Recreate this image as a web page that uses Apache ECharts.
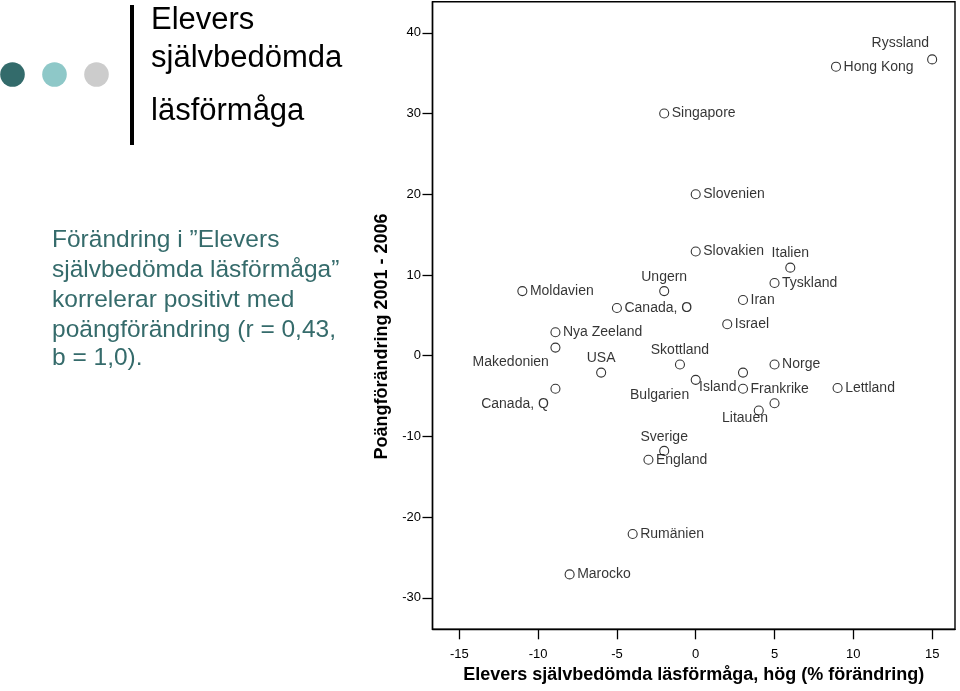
<!DOCTYPE html>
<html>
<head>
<meta charset="utf-8">
<script src="https://cdn.jsdelivr.net/npm/echarts@6/dist/echarts.min.js"></script>
<style>
html,body{margin:0;padding:0;background:#fff;}
#chart{width:960px;height:691px;}
</style>
</head>
<body>
<div id="chart"></div>
<script>
// ---- data ----
const countries = ['Ryssland','Hong Kong','Singapore','Slovenien','Slovakien','Italien','Tyskland','Ungern','Moldavien','Canada, O','Iran','Israel','Nya Zeeland','Makedonien','USA','Skottland','Norge','Island','Bulgarien','Frankrike','Lettland','Canada, Q','Litauen','','Sverige','England','Rumänien','Marocko'];
const selfRatedChange = [15, 8.9, -2, 0, 0, 6, 5, -2, -11, -5, 3, 2, -8.9, -8.9, -6, -1, 5, 3, 0, 3, 9, -8.9, 5, 4, -2, -3, -4, -8];
const scoreChange = [36.7, 35.8, 30, 20, 12.9, 10.9, 9, 8, 8, 5.9, 6.9, 3.9, 2.9, 1, -2.1, -1.1, -1.1, -2.1, -3, -4.1, -4, -4.1, -5.9, -6.8, -11.8, -12.9, -22.1, -27.1];
const xTicks = [-15, -10, -5, 0, 5, 10, 15];
const yTicks = [-30, -20, -10, 0, 10, 20, 30, 40];
const titleLines = ['Elevers', 'självbedömda', 'läsförmåga'];
const noteLines = ['Förändring i ”Elevers', 'självbedömda läsförmåga”', 'korrelerar positivt med', 'poängförändring (r = 0,43,', 'b = 1,0).'];
const xTitle = 'Elevers självbedömda läsförmåga, hög (% förändring)';
const yTitle = 'Poängförändring 2001 - 2006';

// label placement per country (style, kept apart from data)
const labelTop = ['Italien','Ungern','USA','Skottland','Sverige'];
const labelBottomLeft = ['Makedonien','Island','Bulgarien','Canada, Q','Litauen'];
const labelTopLeft = ['Ryssland'];

const FONT = '"Liberation Sans", Arial, Helvetica, sans-serif';

const seriesData = countries.map((n, i) => {
  let label = {show: n !== '', position: 'right', distance: 2.5};
  if (labelTop.includes(n)) label = {show: true, position: 'top', distance: 2};
  else if (labelBottomLeft.includes(n)) label = {show: true, position: 'left', distance: 1.5};
  else if (labelTopLeft.includes(n)) label = {show: true, position: 'left', distance: -2};
  return {name: n, value: [selfRatedChange[i], scoreChange[i]], label: label};
});

function labelShift(params) {
  const n = countries[params.dataIndex];
  if (labelBottomLeft.includes(n)) return {dy: 15};
  if (labelTopLeft.includes(n)) return {dy: -16};
  return {};
}

const chart = echarts.init(document.getElementById('chart'), null, {renderer: 'canvas'});

const graphics = [];
[['#336b6b', 12.5], ['#8ec8c8', 54.5], ['#cccccc', 96.5]].forEach(d => {
  graphics.push({type: 'circle', shape: {cx: d[1], cy: 74.5, r: 12.3}, style: {fill: d[0]}, silent: true});
});
graphics.push({type: 'rect', shape: {x: 130, y: 5, width: 4, height: 140}, style: {fill: '#000'}, silent: true});
[20.5, 58, 111].forEach((y, i) => {
  graphics.push({type: 'text', x: 151, y: y, style: {text: titleLines[i], font: '31px ' + FONT, fill: '#000', verticalAlign: 'middle', align: 'left'}, silent: true});
});
[240.5, 270.5, 300.5, 330.5, 358.5].forEach((y, i) => {
  graphics.push({type: 'text', x: 52, y: y, style: {text: noteLines[i], font: '24.5px ' + FONT, fill: '#356b6b', verticalAlign: 'middle', align: 'left'}, silent: true});
});

const option = {
  backgroundColor: '#fff',
  animation: false,
  textStyle: {fontFamily: FONT},
  grid: {left: 432.5, top: 1.7, right: 5, bottom: 61.7, show: true, borderColor: '#000', borderWidth: 1.4, containLabel: false},
  xAxis: {
    type: 'value', min: -16.7, max: 16.45,
    name: xTitle, nameLocation: 'middle', nameGap: 36,
    nameTextStyle: {fontFamily: FONT, fontSize: 18, fontWeight: 'bold', color: '#000'},
    axisLine: {show: true, onZero: false, lineStyle: {color: '#000', width: 1.4}},
    axisTick: {show: true, length: 10, inside: false, lineStyle: {color: '#000', width: 1.3}, customValues: xTicks},
    axisLabel: {fontSize: 13, color: '#000', margin: 19, customValues: xTicks},
    splitLine: {show: false}
  },
  yAxis: {
    type: 'value', min: -33.9, max: 43.85,
    name: yTitle, nameLocation: 'middle', nameGap: 30, nameRotate: 90,
    nameTextStyle: {fontFamily: FONT, fontSize: 18, fontWeight: 'bold', color: '#000', padding: [0, 42, 0, 0]},
    axisLine: {show: true, onZero: false, lineStyle: {color: '#000', width: 1.4}},
    axisTick: {show: true, length: 10, inside: false, lineStyle: {color: '#000', width: 1.3}, customValues: yTicks},
    axisLabel: {fontSize: 13, color: '#000', margin: 11.5, customValues: yTicks},
    splitLine: {show: false}
  },
  series: [{
    type: 'scatter',
    symbol: 'circle',
    symbolSize: 9,
    itemStyle: {color: 'rgba(0,0,0,0)', borderColor: '#000', borderWidth: 1.1},
    label: {show: true, formatter: '{b}', fontSize: 14, color: '#000', fontFamily: FONT},
    labelLayout: labelShift,
    emphasis: {disabled: true},
    data: seriesData
  }],
  graphic: graphics
};
chart.setOption(option);
</script>
</body>
</html>
